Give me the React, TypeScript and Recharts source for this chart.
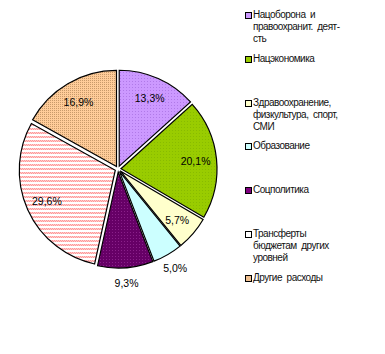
import { PieChart, Pie, Cell, Legend, Sector } from 'recharts';

const categories = [
  'Нацоборона  и\nправоохранит.  деят-\nсть',
  'Нацэкономика',
  'Здравоохранение,\nфизкультура,  спорт,\nСМИ',
  'Образование',
  'Соцполитика',
  'Трансферты\nбюджетам  других\nуровней',
  'Другие  расходы',
];
const shares = [13.3, 20.1, 5.7, 5.0, 9.3, 29.6, 16.9];
const fills = [
  'url(#pLilac)',
  'url(#pGreen)',
  '#FFFFCC',
  '#CCFFFF',
  'url(#pPurple)',
  'url(#pStripes)',
  'url(#pTan)',
];
const swatches = ['#CC99FF', '#99CC00', '#FFFFCC', '#CCFFFF', '#800080', '#FFFFFF', '#F0C090'];
const outsideLabel = [false, false, false, true, true, false, false];

const data = categories.map((name, i) => ({ name, value: shares[i] }));

const RAD = Math.PI / 180;
const EXPLODE = 3;

// every slice pulled a little out of the centre, like the exploded excel pie
const ExplodedSector = (props: any) => {
  const { cx, cy, midAngle, innerRadius, outerRadius, startAngle, endAngle, fill, stroke, strokeWidth } = props;
  return (
    <Sector
      cx={cx + EXPLODE * Math.cos(-midAngle * RAD)}
      cy={cy + EXPLODE * Math.sin(-midAngle * RAD)}
      innerRadius={innerRadius}
      outerRadius={outerRadius}
      startAngle={startAngle}
      endAngle={endAngle}
      fill={fill}
      stroke={stroke}
      strokeWidth={strokeWidth}
    />
  );
};

const renderLabel = (props: any) => {
  const { cx, cy, midAngle, index, value } = props;
  const r = outsideLabel[index] ? 114 : 78;
  const x = cx + r * Math.cos(-midAngle * RAD);
  const y = cy + r * Math.sin(-midAngle * RAD);
  return (
    <text
      x={x}
      y={y}
      fill="#000"
      fontSize={10.5}
      fontFamily="'Liberation Sans', Arial, sans-serif"
      textAnchor="middle"
      dominantBaseline="central"
    >
      {value.toFixed(1).replace('.', ',')}%
    </text>
  );
};

const LegendBox = () => (
  <div
    style={{
      fontFamily: "'Liberation Sans', Arial, sans-serif",
      fontSize: 10,
      letterSpacing: -0.5,
      lineHeight: '12px',
      color: '#111',
    }}
  >
    {categories.map((name, i) => (
      <div key={i} style={{ height: 43.8, display: 'flex', alignItems: 'flex-start' }}>
        <span
          style={{
            width: 5,
            height: 5,
            marginTop: 3,
            marginRight: 1,
            border: '1px solid #000',
            background: swatches[i],
            flexShrink: 0,
          }}
        />
        <span style={{ whiteSpace: 'pre' }}>{name}</span>
      </div>
    ))}
  </div>
);

export default function App() {
  return (
    <div style={{ position: 'absolute', left: 0, top: 0, width: 385, height: 354, background: '#fff' }}>
      <PieChart width={385} height={354} margin={{ top: 0, right: 0, bottom: 0, left: 0 }}>
        <defs>
          <pattern id="pLilac" width="3" height="3" patternUnits="userSpaceOnUse">
            <rect width="3" height="3" fill="#CC99FF" />
            <rect x="0" y="0" width="1" height="1" fill="#B07AE8" />
          </pattern>
          <pattern id="pGreen" width="3" height="3" patternUnits="userSpaceOnUse">
            <rect width="3" height="3" fill="#99CC00" />
            <rect x="1" y="1" width="1" height="1" fill="#88BB00" />
          </pattern>
          <pattern id="pPurple" width="3" height="3" patternUnits="userSpaceOnUse">
            <rect width="3" height="3" fill="#660066" />
            <rect x="1" y="1" width="1" height="1" fill="#8A208A" />
          </pattern>
          <pattern id="pStripes" width="2" height="4" patternUnits="userSpaceOnUse">
            <rect width="2" height="4" fill="#FFFFFF" />
            <rect x="0" y="0" width="1" height="1" fill="#FF9999" />
            <rect x="1" y="0" width="1" height="1" fill="#FFCCCC" />
            <rect x="0" y="1" width="1" height="1" fill="#FFCCCC" />
            <rect x="1" y="1" width="1" height="1" fill="#FF9999" />
          </pattern>
          <pattern id="pTan" width="2" height="2" patternUnits="userSpaceOnUse">
            <rect width="2" height="2" fill="#FFCC99" />
            <rect x="0" y="0" width="1" height="1" fill="#C89A6A" />
          </pattern>
        </defs>
        <Pie
          data={data}
          dataKey="value"
          nameKey="name"
          cx={118}
          cy={169}
          outerRadius={96}
          startAngle={90}
          endAngle={-270}
          stroke="#000"
          strokeWidth={1.2}
          shape={ExplodedSector}
          label={renderLabel}
          labelLine={false}
          isAnimationActive={false}
        >
          {data.map((_, i) => (
            <Cell key={i} fill={fills[i]} />
          ))}
        </Pie>
        <Legend
          layout="vertical"
          content={<LegendBox />}
          wrapperStyle={{ left: 245, top: 9, width: 140, right: 'auto', bottom: 'auto' }}
        />
      </PieChart>
    </div>
  );
}
